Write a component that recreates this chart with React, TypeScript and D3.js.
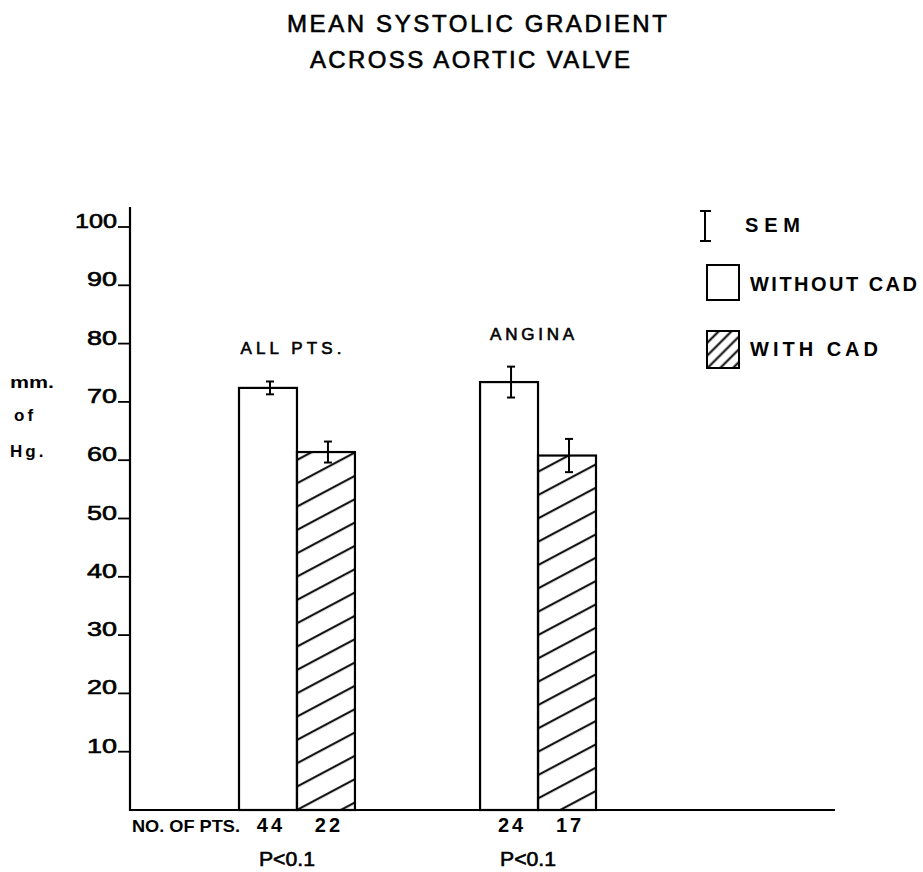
import React from 'react';
import * as d3 from 'd3';

// chart values
const groups = ['ALL PTS.', 'ANGINA'];
const series = ['WITHOUT CAD', 'WITH CAD'];
const withoutCad = [72.4, 73.4];
const withCad = [61.4, 60.8];
const semWithout = [1.1, 2.65];
const semWith = [1.8, 2.85];
const ptsWithout = [44, 24];
const ptsWith = [22, 17];
const pValues = ['P<0.1', 'P<0.1'];
const yTicks = [10, 20, 30, 40, 50, 60, 70, 80, 90, 100];

const W = 923;
const H = 872;
const FONT = '"Liberation Sans", Arial, sans-serif';

// hand-lettered look: a thin outline thickens the glyphs a little
const ink = { fill: '#000', stroke: '#000', strokeWidth: 0.6 };

const App = () => {
  const y = d3.scaleLinear().domain([0, 100]).range([810, 227]);
  const x = d3.scaleBand().domain(groups).range([239, 596]).paddingInner(0.519).paddingOuter(0);
  const sub = d3.scaleBand().domain(series).range([0, x.bandwidth()]);

  const bars = groups.flatMap((g, i) => [
    { g, s: series[0], v: withoutCad[i], sem: semWithout[i], n: ptsWithout[i] },
    { g, s: series[1], v: withCad[i], sem: semWith[i], n: ptsWith[i] },
  ]);

  const axisX = 130;
  const baseY = y(0);

  return (
    <svg width={W} height={H} style={{ position: 'absolute', left: 0, top: 0, background: '#fff' }}
      fontFamily={FONT}>
      <defs>
        <pattern id="hatch" patternUnits="userSpaceOnUse" width={20} height={20.6}
          patternTransform="rotate(-28)">
          <line x1={0} y1={10} x2={20} y2={10} stroke="#000" strokeWidth={2} />
        </pattern>
        <pattern id="hatchSmall" patternUnits="userSpaceOnUse" width={10} height={9}
          patternTransform="rotate(-45)">
          <line x1={0} y1={4.5} x2={10} y2={4.5} stroke="#000" strokeWidth={2} />
        </pattern>
      </defs>

      {/* title */}
      <text x={477} y={32} fontSize={24} textAnchor="middle" textLength={380} lengthAdjust="spacing" {...ink}>
        MEAN SYSTOLIC GRADIENT
      </text>
      <text x={470} y={68} fontSize={24} textAnchor="middle" textLength={320} lengthAdjust="spacing" {...ink}>
        ACROSS AORTIC VALVE
      </text>

      {/* y axis */}
      <line x1={axisX} y1={207} x2={axisX} y2={baseY + 1} stroke="#000" strokeWidth={2.2} />
      {yTicks.map(t => (
        <g key={t}>
          <line x1={axisX - 12} y1={y(t)} x2={axisX} y2={y(t)} stroke="#000" strokeWidth={1.8} />
          <text x={117} y={y(t) + 1} fontSize={20} textAnchor="end" {...ink}
            textLength={t === 100 ? 42 : 30} lengthAdjust="spacingAndGlyphs">{t}</text>
        </g>
      ))}
      <text x={10} y={388} fontSize={17} fontWeight="bold" textLength={44} lengthAdjust="spacingAndGlyphs">mm.</text>
      <text x={14} y={421} fontSize={17} fontWeight="bold" letterSpacing={3}>of</text>
      <text x={10} y={457} fontSize={17} fontWeight="bold" letterSpacing={3}>Hg.</text>

      {/* x axis */}
      <line x1={axisX - 1} y1={baseY} x2={835} y2={baseY} stroke="#000" strokeWidth={2.2} />

      {/* bars */}
      {bars.map(b => {
        const bx = (x(b.g) as number) + (sub(b.s) as number);
        const bw = sub.bandwidth();
        const cx = bx + bw / 2 + 2;
        return (
          <g key={b.g + b.s}>
            <rect x={bx} y={y(b.v)} width={bw} height={baseY - y(b.v)}
              fill={b.s === series[1] ? 'url(#hatch)' : '#fff'} stroke="#000" strokeWidth={2.2} />
            <line x1={cx} y1={y(b.v + b.sem)} x2={cx} y2={y(b.v - b.sem)} stroke="#000" strokeWidth={2} />
            <line x1={cx - 4} y1={y(b.v + b.sem)} x2={cx + 4} y2={y(b.v + b.sem)} stroke="#000" strokeWidth={2} />
            <line x1={cx - 4} y1={y(b.v - b.sem)} x2={cx + 4} y2={y(b.v - b.sem)} stroke="#000" strokeWidth={2} />
            <text x={bx + bw / 2 + 3} y={832} fontSize={20} fontWeight="bold" textAnchor="middle"
              letterSpacing={3}>{b.n}</text>
          </g>
        );
      })}

      {/* group labels and p values */}
      {groups.map((g, i) => {
        const gx = (x(g) as number) + x.bandwidth() / 2;
        const top = y(Math.max(withoutCad[i] + semWithout[i], withCad[i] + semWith[i]));
        return (
          <g key={g}>
            <text x={gx - 6} y={top - 27} fontSize={17} textAnchor="middle" {...ink}
              textLength={g === 'ANGINA' ? 84 : 101} lengthAdjust="spacing">{g}</text>
            <text x={gx - 10} y={866} fontSize={20} textAnchor="middle" {...ink}
              textLength={56} lengthAdjust="spacingAndGlyphs">{pValues[i]}</text>
          </g>
        );
      })}
      <text x={132} y={832} fontSize={17} fontWeight="bold" textLength={108}
        lengthAdjust="spacingAndGlyphs">NO. OF PTS.</text>

      {/* legend */}
      <g>
        <line x1={705} y1={211} x2={705} y2={241} stroke="#000" strokeWidth={2} />
        <line x1={700} y1={211} x2={711} y2={211} stroke="#000" strokeWidth={2} />
        <line x1={700} y1={241} x2={711} y2={241} stroke="#000" strokeWidth={2} />
        <text x={745} y={232} fontSize={20} fontWeight="bold" textLength={55} lengthAdjust="spacing">SEM</text>
        <rect x={707} y={265} width={32} height={35} fill="#fff" stroke="#000" strokeWidth={2} />
        <text x={750} y={291} fontSize={20} fontWeight="bold" textLength={167} lengthAdjust="spacing">
          {series[0]}
        </text>
        <rect x={707} y={331} width={32} height={37} fill="url(#hatchSmall)" stroke="#000" strokeWidth={2} />
        <text x={750} y={356} fontSize={20} fontWeight="bold" textLength={128} lengthAdjust="spacing">
          {series[1]}
        </text>
      </g>
    </svg>
  );
};

export default App;
